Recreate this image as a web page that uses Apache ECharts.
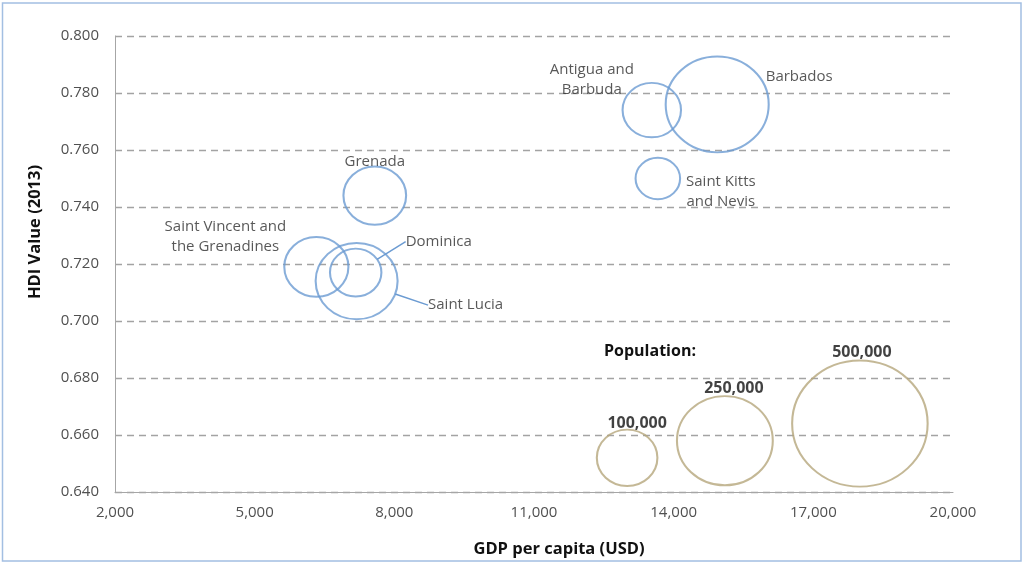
<!DOCTYPE html>
<html>
<head>
<meta charset="utf-8">
<script src="https://cdn.jsdelivr.net/npm/echarts@6/dist/echarts.min.js"></script>
<style>
html,body{margin:0;padding:0;background:#fff;}
#chart{width:1023px;height:563px;}
</style>
</head>
<body>
<div id="chart"></div>
<script>
// ---- data ----
const countries = ['Antigua and\nBarbuda', 'Barbados', 'Saint Kitts\nand Nevis', 'Grenada',
  'Saint Vincent and\nthe Grenadines', 'Dominica', 'Saint Lucia'];
const gdpPerCapita = [13530, 14935, 13660, 7580, 6325, 7170, 7190];
const hdiValue = [0.774, 0.776, 0.750, 0.744, 0.719, 0.717, 0.714];
const population = [93000, 289000, 54000, 107000, 112000, 72000, 183000];

const legendLabels = ['100,000', '250,000', '500,000'];
const legendPopulation = [100000, 250000, 500000];
const legendGdp = [13000, 15100, 18000];
const legendHdi = [0.652, 0.658, 0.664];

const xTicks = [2000, 5000, 8000, 11000, 14000, 17000, 20000];
const yTicks = [0.640, 0.660, 0.680, 0.700, 0.720, 0.740, 0.760, 0.780, 0.800];

// ---- styles ----
const FONT = "'Open Sans', 'Noto Sans', sans-serif";
const BLUE = '#6b9bd2';
const OLIVE = '#b5a67c';
const labelStyle = {
  'Antigua and\nBarbuda': {offset: [-60, -30]},
  'Barbados': {offset: [82, -28]},
  'Saint Kitts\nand Nevis': {offset: [63, 13]},
  'Grenada': {offset: [0, -34]},
  'Saint Vincent and\nthe Grenadines': {offset: [-91, -30]},
  'Dominica': {offset: [83, -31], line: true},
  'Saint Lucia': {offset: [109, 24], line: true}
};
const legendOffsets = [[10, -34], [9, -52], [2, -71]];

function bubbleSize(pop) {
  const k = Math.sqrt(pop / 100000);
  return [2 * 30.3 * k, 2 * 28.2 * k];
}

const countryData = countries.map((name, i) => {
  const st = labelStyle[name];
  const d = {
    name: name,
    value: [gdpPerCapita[i], hdiValue[i], population[i]],
    label: {offset: st.offset}
  };
  if (st.line) {
    d.labelLine = {show: true, lineStyle: {color: BLUE, width: 1.5}};
  }
  return d;
});

const legendData = legendLabels.map((name, i) => ({
  name: name,
  value: [legendGdp[i], legendHdi[i], legendPopulation[i]],
  label: {offset: legendOffsets[i]}
}));

const chart = echarts.init(document.getElementById('chart'), null, {renderer: 'canvas'});
chart.setOption({
  backgroundColor: '#ffffff',
  animation: false,
  textStyle: {fontFamily: FONT},
  grid: {left: 115, right: 70, top: 36, bottom: 71, containLabel: false},
  xAxis: {
    type: 'value', min: 2000, max: 20000,
    name: 'GDP per capita (USD)', nameLocation: 'middle', nameGap: 49,
    nameTextStyle: {fontFamily: FONT, fontSize: 16.5, fontWeight: 'bold', color: '#111', padding: [0, 0, 0, 50]},
    axisLine: {show: true, lineStyle: {color: '#a6a6a6', width: 1}},
    axisTick: {show: false},
    splitLine: {show: false},
    axisLabel: {
      customValues: xTicks, margin: 13, fontFamily: FONT, fontSize: 15, color: '#505050',
      formatter: v => v.toLocaleString('en-US')
    }
  },
  yAxis: {
    type: 'value', min: 0.64, max: 0.80, interval: 0.02,
    name: 'HDI Value (2013)', nameLocation: 'middle', nameGap: 71, nameRotate: 90,
    nameTextStyle: {fontFamily: FONT, fontSize: 16.5, fontWeight: 'bold', color: '#111', padding: [0, 0, 0, 64]},
    axisLine: {show: true, lineStyle: {color: '#a6a6a6', width: 1}},
    axisTick: {show: false},
    splitLine: {show: true, lineStyle: {color: '#a3a3a3', width: 1.4, type: [7, 5]}},
    axisLabel: {
      margin: 16, fontFamily: FONT, fontSize: 15, color: '#505050',
      formatter: v => v.toFixed(3)
    }
  },
  graphic: [
    {type: 'rect', silent: true, shape: {x: 2.5, y: 3, width: 1018.5, height: 558},
      style: {fill: 'none', stroke: '#a3bfe2', lineWidth: 1.5}},
    {type: 'text', silent: true, left: 604, top: 343,
      style: {text: 'Population:', font: "bold 16px " + FONT, fill: '#111'}}
  ],
  series: [
    {
      type: 'scatter', name: 'Countries',
      data: countryData,
      symbol: 'circle',
      symbolSize: v => bubbleSize(v[2]),
      itemStyle: {color: 'rgba(0,0,0,0)', borderColor: BLUE, borderWidth: 2},
      label: {show: true, position: 'inside', formatter: p => p.name, fontFamily: FONT, fontSize: 15,
        color: '#2e2e2e', lineHeight: 20, align: 'center', verticalAlign: 'middle'},
      emphasis: {disabled: true}
    },
    {
      type: 'scatter', name: 'Population',
      data: legendData,
      symbol: 'circle',
      symbolSize: v => bubbleSize(v[2]),
      itemStyle: {color: 'rgba(0,0,0,0)', borderColor: OLIVE, borderWidth: 2},
      label: {show: true, position: 'inside', formatter: p => p.name, fontFamily: FONT, fontSize: 16,
        fontWeight: 'bold', color: '#111', align: 'center', verticalAlign: 'middle'},
      emphasis: {disabled: true}
    }
  ]
});
</script>
</body>
</html>
